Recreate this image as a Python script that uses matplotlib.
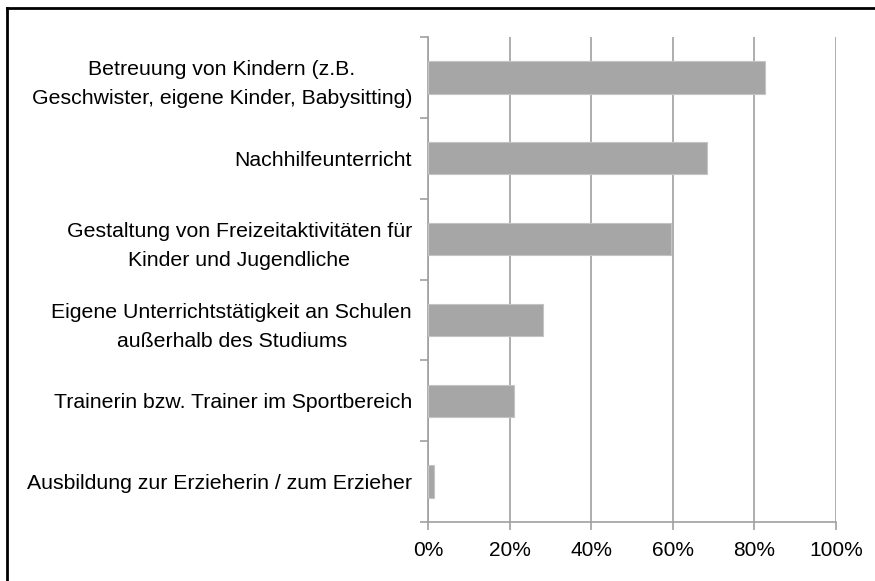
import matplotlib.pyplot as plt
from matplotlib.lines import Line2D
from matplotlib.ticker import FixedLocator, PercentFormatter

plt.rcParams['font.family'] = ['Liberation Sans', 'DejaVu Sans']

categories = [
    "Betreuung von Kindern (z.B.\nGeschwister, eigene Kinder, Babysitting)",
    "Nachhilfeunterricht",
    "Gestaltung von Freizeitaktivitäten für\nKinder und Jugendliche",
    "Eigene Unterrichtstätigkeit an Schulen\naußerhalb des Studiums",
    "Trainerin bzw. Trainer im Sportbereich",
    "Ausbildung zur Erzieherin / zum Erzieher",
]
values = [82.5, 68.4, 59.6, 28.2, 21.1, 1.5]
x_ticks = [0, 20, 40, 60, 80, 100]

fig = plt.figure(figsize=(8.75, 5.81), dpi=100)
ax = fig.add_axes([428 / 875, 1 - 522 / 581, 408 / 875, 485 / 581])

pos = list(range(len(categories)))[::-1]
ax.barh(pos, values, height=0.4, color='#a6a6a6', edgecolor='#c4c4c4', linewidth=0.8, zorder=3)

ax.set_xlim(0, 100)
ax.set_ylim(-0.5, len(categories) - 0.5)
ax.xaxis.set_major_locator(FixedLocator(x_ticks))
ax.xaxis.set_major_formatter(PercentFormatter(decimals=0))
ax.grid(axis='x', color='#a0a0a0', linewidth=1.2, zorder=0)

ax.set_yticks(pos)
ax.set_yticklabels(categories, fontsize=15.3, linespacing=1.65)
ax.set_yticks([p - 0.5 for p in range(len(categories) + 1)], minor=True)
ax.tick_params(axis='y', which='major', length=0, pad=11.5)
ax.tick_params(axis='y', which='minor', length=6, color='#a0a0a0', width=1.2)
ax.tick_params(axis='x', length=6, color='#a0a0a0', width=1.2, labelsize=15, pad=8)
for lbl in ax.get_yticklabels():
    lbl.set_horizontalalignment('right')
    lbl.set_multialignment('center')

for side in ['top', 'right']:
    ax.spines[side].set_visible(False)
for side in ['left', 'bottom']:
    ax.spines[side].set_color('#a0a0a0')
    ax.spines[side].set_linewidth(1.2)

# frame only on top and left, like the cropped original
fig.lines.append(Line2D([7 / 875, 1], [1 - 8 / 581] * 2, transform=fig.transFigure,
                        color='black', linewidth=2))
fig.lines.append(Line2D([7 / 875] * 2, [0, 1 - 8 / 581], transform=fig.transFigure,
                        color='black', linewidth=2))

fig.savefig('out.png', dpi=100)
